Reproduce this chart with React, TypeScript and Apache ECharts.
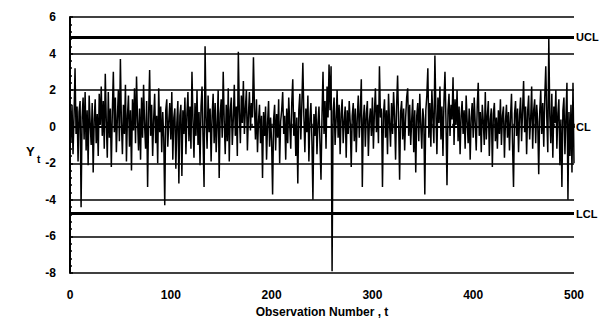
import React, { useEffect, useRef } from "react";
import * as echarts from "echarts";

const obs: number[] = [
  0.3, -0.8, 1.2, -1.5, 0.6, 3.2, -0.4, 1.1, -1.9, 0.8, 1.4, -4.4, 0.5, 1.6, -0.7, 1.9, -1.3, 0.9, -2.1, 1.7, 0.2, -1.0, 1.3, -2.5, 0.4,
  1.5, -0.9, 0.7, -1.6, 1.8, 0.1, 2.2, -0.5, 1.4, -1.2, 2.9, 0.3, -1.7, 1.9, -0.6, 1.0, -2.2, 0.8, 3.0, -0.3, 1.6, -1.4, 0.5, 2.0, -0.8,
  3.7, 0.2, -1.5, 1.2, -0.4, 2.3, -1.9, 0.6, 1.7, -1.1, 0.9, -2.4, 1.5, -0.2, 2.1, -0.9, 2.75, 0.4, -1.3, 1.0, -1.8, 1.6, -0.6, 2.3, 0.1,
  -1.2, 1.4, -3.3, 0.7, 3.1, -0.5, 1.2, -1.6, 0.4, 1.8, -0.9, 0.6, -2.0, 2.1, -0.3, 1.1, -1.4, 0.8, -0.6, -4.3, 0.9, 1.5, -1.1, 0.3, 1.3,
  -0.7, 1.9, -1.8, 0.5, 1.0, -2.3, 0.2, 1.4, -3.1, 0.6, 1.2, -2.7, 0.9, -0.4, 1.6, -1.5, 0.7, 1.9, -0.8, 1.1, -1.2, 3.0, 0.4, -1.7, 1.3,
  -0.5, 2.0, -1.0, 0.8, -2.1, 1.1, 2.2, -0.7, -3.3, 4.4, 0.5, -1.2, 1.7, -0.3, 1.0, -1.9, 0.6, 1.8, -0.9, 1.3, -1.4, 0.2, 2.0, -2.8, 0.7,
  1.5, -0.6, 3.0, 0.3, -1.5, 1.2, -0.8, 2.1, -1.9, 0.9, 1.6, -1.0, 0.4, 2.3, -0.5, 1.1, -1.6, 4.1, 0.8, -0.9, 1.7, 0.2, 2.5, -0.4, 1.0,
  2.0, -1.3, 0.6, 1.9, -0.2, 1.3, 0.5, 3.8, 1.0, -0.7, 1.5, -1.4, 0.3, 1.2, -0.9, 0.6, -2.8, 0.8, -0.5, 1.1, -1.8, 0.2, 1.4, -1.1, 0.5,
  -0.8, -3.7, 0.4, 1.2, -1.3, 0.7, -0.6, 1.5, -2.0, 0.3, 0.9, 1.9, -0.4, 0.6, -1.8, 1.0, -0.9, 1.6, 0.1, -1.2, 1.3, 2.6, -0.5, 0.8, -1.6,
  0.5, -3.1, 0.9, 1.8, -0.7, 1.2, 3.5, 0.6, -1.4, 1.0, -0.3, 1.7, -1.9, 0.4, 1.3, -0.8, -4.0, 0.7, -0.5, 1.1, -1.5, 0.2, 1.1, -0.9, -2.9,
  0.6, 3.0, -0.4, 1.4, -1.2, 2.2, 0.5, 3.4, 0.9, 3.3, -7.9, 0.8, 1.6, -1.0, 0.4, 2.0, -0.6, 1.2, -1.5, 0.7, 1.5, -0.9, 0.3, 1.1, -1.7,
  0.9, -0.4, 1.4, 0.2, -2.2, 0.6, 1.3, -0.8, 1.0, -1.4, 0.5, 1.7, -0.6, 0.8, 2.6, -3.3, 0.4, 1.2, -1.1, 0.7, 1.4, -1.6, 0.3, 1.0, -0.5,
  1.6, -1.2, 0.8, 2.1, -0.3, 1.2, -0.9, 3.3, 0.5, 1.0, -3.3, 0.7, 1.5, -0.6, 0.9, -1.5, 1.8, 0.2, -1.1, 1.3, -0.4, 1.9, 0.6, -1.8, 1.1,
  2.8, 0.3, -2.9, 0.8, 1.4, -0.7, 1.0, -1.3, 0.5, 1.6, 2.1, -0.5, 1.2, -1.0, 0.4, 1.5, -1.4, 0.9, -2.5, 0.6, 1.3, -0.8, 1.8, 0.1, -1.2,
  1.0, 0.4, -3.7, 0.9, 1.7, 3.2, -0.6, 1.3, -1.1, 2.0, 0.5, -0.9, 3.9, 0.8, -1.5, 1.6, 0.2, 2.2, -0.7, 1.1, -1.6, 1.4, 3.0, 0.3, -3.2,
  0.9, 1.8, -0.5, 1.2, 0.4, 2.7, -1.0, 1.5, 0.1, 2.0, -0.8, 1.1, -1.5, 0.6, 1.4, -0.4, 0.9, -1.2, 1.7, 0.3, -0.9, 1.0, -1.8, 0.5, 1.3,
  -0.6, 1.6, 0.2, -1.3, 1.1, 2.4, -0.5, 0.8, -1.4, 1.2, 0.3, -1.0, 1.9, -0.7, 0.6, 1.4, -1.6, 0.4, 1.0, -2.2, 0.7, 1.3, -0.8, 0.5, -1.2,
  0.9, -0.4, 1.5, -1.0, 0.6, 1.1, -1.7, 0.3, 1.2, -0.6, 0.8, -1.3, 0.5, 1.8, -0.9, -3.3, 0.7, 1.4, -0.5, 1.0, -1.4, 0.6, 1.6, -0.8, 0.9,
  2.5, -0.3, 1.1, -1.5, 0.8, 1.7, -0.7, 0.4, 2.2, -1.2, 0.9, 1.5, -0.9, 1.2, 0.3, -2.6, 0.8, 2.0, -0.4, 1.3, -1.1, 1.6, 3.3, 0.5, -1.4,
  4.8, 0.6, -0.9, 1.8, -1.7, 1.1, 0.2, 2.0, -1.2, 0.7, 1.5, -2.1, 0.4, -3.3, 0.9, 1.6, -1.5, 0.5, 2.4, -4.0, 0.8, -1.6, 1.2, -2.5, 2.4, -2.0,
];

// Control limits
const limitNames = ["UCL", "CL", "LCL"];
const limitValues = [4.9, 0, -4.75];
const limitWidths = [3, 2, 3];

// Axis settings
const xTicks = [0, 100, 200, 300, 400, 500];
const yTicks = [-8, -6, -4, -2, 0, 2, 4, 6];

const FONT = "'Liberation Sans', Arial, sans-serif";

export default function App() {
  const ref = useRef<HTMLDivElement>(null);
  useEffect(() => {
    document.body.style.margin = "0";
    const chart = echarts.init(ref.current!, null, { renderer: "svg" });
    const seriesData = obs.map((v, i) => [i, v]);
    chart.setOption({
      animation: false,
      backgroundColor: "#ffffff",
      grid: { left: 70, right: 25, top: 17, bottom: 50 },
      xAxis: {
        type: "value",
        min: xTicks[0],
        max: xTicks[xTicks.length - 1],
        interval: 100,
        name: "Observation Number , t",
        nameLocation: "middle",
        nameGap: 30,
        nameTextStyle: { fontFamily: FONT, fontWeight: "bold", fontSize: 12, color: "#000" },
        axisLine: { lineStyle: { color: "#000", width: 2 } },
        axisTick: { inside: true, length: 3, lineStyle: { color: "#000", width: 1.5 } },
        minorTick: { show: true, splitNumber: 5, length: 3, lineStyle: { color: "#000", width: 1.5 } },
        axisLabel: { fontFamily: FONT, fontWeight: "bold", fontSize: 12, color: "#000", margin: 16 },
        splitLine: { show: false },
      },
      yAxis: {
        type: "value",
        min: yTicks[0],
        max: yTicks[yTicks.length - 1],
        interval: 2,
        axisLine: { show: true, lineStyle: { color: "#000", width: 2 } },
        axisTick: { show: true, inside: true, length: 3, lineStyle: { color: "#000", width: 1.5 } },
        minorTick: { show: true, splitNumber: 5, length: 2, lineStyle: { color: "#000", width: 1.5 } },
        axisLabel: { fontFamily: FONT, fontWeight: "bold", fontSize: 12, color: "#000", margin: 14 },
        splitLine: { show: true, lineStyle: { color: "#000", width: 1.6 } },
      },
      graphic: [
        {
          type: "text",
          left: 26,
          top: 145,
          style: { text: "Y", fontFamily: FONT, fontWeight: "bold", fontSize: 13, fill: "#000" },
        },
        {
          type: "text",
          left: 37,
          top: 154,
          style: { text: "t", fontFamily: FONT, fontWeight: "bold", fontSize: 10, fill: "#000" },
        },
      ],
      series: [
        {
          type: "line",
          data: seriesData,
          showSymbol: false,
          lineStyle: { color: "#000", width: 1.5 },
          markLine: {
            silent: true,
            symbol: "none",
            data: limitNames.map((n, i) => ({
              yAxis: limitValues[i],
              name: n,
              lineStyle: { color: "#000", width: limitWidths[i], type: "solid" },
              label: {
                show: true,
                position: "end",
                formatter: n,
                distance: 2,
                fontFamily: FONT,
                fontWeight: "bold",
                fontSize: 11,
                color: "#000",
              },
            })),
          },
        },
      ],
    });
    return () => chart.dispose();
  }, []);
  return (
    <div
      ref={ref}
      style={{ position: "absolute", left: 0, top: 0, width: 599, height: 323, background: "#fff" }}
    />
  );
}
